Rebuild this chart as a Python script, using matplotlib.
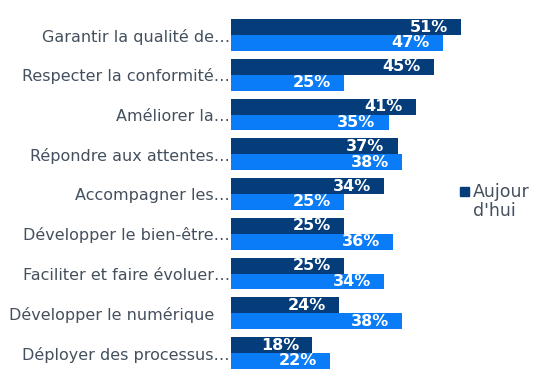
import numpy as np
import matplotlib.pyplot as plt
from matplotlib.patches import Rectangle

# Chart data
categories = [
    "Garantir la qualité de…",
    "Respecter la conformité…",
    "Améliorer la…",
    "Répondre aux attentes…",
    "Accompagner les…",
    "Développer le bien-être…",
    "Faciliter et faire évoluer…",
    "Développer le numérique   ",
    "Déployer des processus…",
]
aujourdhui = [51, 45, 41, 37, 34, 25, 25, 24, 18]
demain = [47, 25, 35, 38, 25, 36, 34, 38, 22]
legend_lines = ["Aujour", "d'hui"]

dark = "#053D7A"
light = "#0B7CF7"
grey = "#44505E"

W, H = 539, 385
fig = plt.figure(figsize=(W / 100, H / 100), dpi=100)
ax = fig.add_axes([0.4286, 0.0314, 0.432, 0.9293])

y = np.arange(len(categories))
h = 0.4
ax.barh(y - h / 2, aujourdhui, height=h, color=dark)
ax.barh(y + h / 2, demain, height=h, color=light)

# value labels inside the bar end
for yi, v in zip(y, aujourdhui):
    ax.text(v - 2.9, yi - h / 2, f"{v}%", ha="right", va="center",
            color="white", fontsize=11.5, fontweight="bold")
for yi, v in zip(y, demain):
    ax.text(v - 2.9, yi + h / 2, f"{v}%", ha="right", va="center",
            color="white", fontsize=11.5, fontweight="bold")

ax.set_ylim(len(categories) - 0.5, -0.5)
ax.set_xlim(0, 51.7)
ax.set_yticks(y)
ax.set_yticklabels(categories, fontsize=11.5, color=grey)
ax.tick_params(axis="y", length=0, pad=1)
ax.set_xticks([])
for s in ax.spines.values():
    s.set_visible(False)

# legend drawn by hand: square lines up with the first text line
fig.patches.append(Rectangle((460 / W, 1 - 196 / H), 9 / W, 9 / H,
                             transform=fig.transFigure, color=dark))
fig.text(473 / W, 1 - 197 / H, legend_lines[0], fontsize=12.5, color=grey,
         va="baseline")
fig.text(473 / W, 1 - 216 / H, legend_lines[1], fontsize=12.5, color=grey,
         va="baseline")

fig.savefig("out.png", dpi=100)
